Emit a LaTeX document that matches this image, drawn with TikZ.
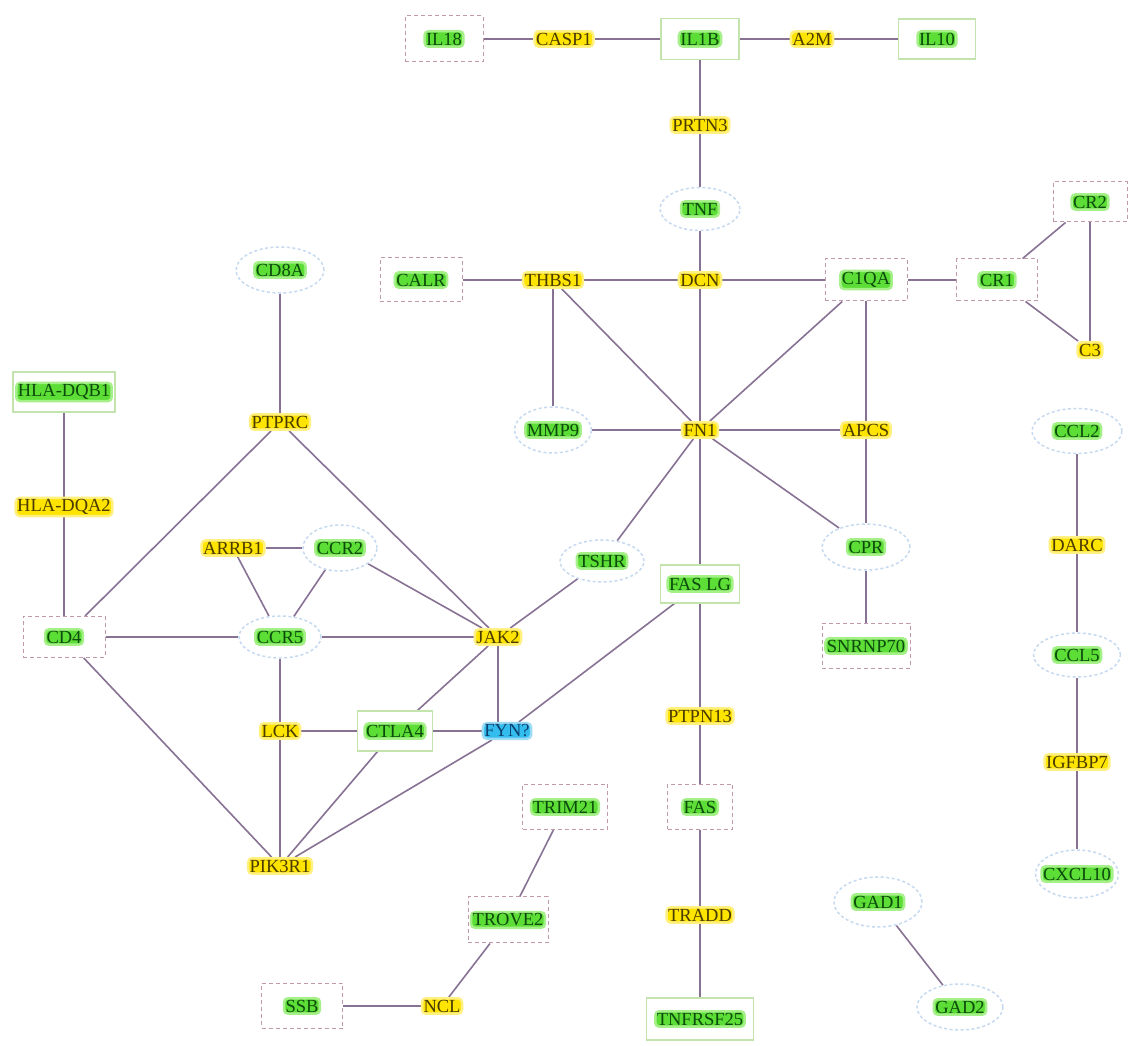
\documentclass[tikz,border=0pt]{standalone}
\usepackage{fontspec}
\setmainfont{Liberation Serif}
\usetikzlibrary{shapes.geometric,backgrounds}
\definecolor{gfill}{HTML}{5CDE36}
\definecolor{gglow}{HTML}{A6F08A}
\definecolor{gtext}{HTML}{0D4A0D}
\definecolor{yfill}{HTML}{FFE400}
\definecolor{yglow}{HTML}{FFF080}
\definecolor{ytext}{HTML}{4A3C00}
\definecolor{bfill}{HTML}{33BDEE}
\definecolor{bglow}{HTML}{9ADCF6}
\definecolor{btext}{HTML}{0B3F6E}
\definecolor{edgec}{HTML}{887294}
\definecolor{fsolidc}{HTML}{C4E4AE}
\definecolor{fdashc}{HTML}{C09AAA}
\definecolor{fellc}{HTML}{C6DAF0}
\tikzset{
  x=1pt,y=1pt,
  lbl/.style={rounded corners=4pt,inner sep=1.5pt,line width=2.5pt,
    font=\fontsize{18.5}{20}\selectfont},
  hg/.style={lbl,fill=gfill,draw=gglow,text=gtext},
  hy/.style={lbl,fill=yfill,draw=yglow,text=ytext},
  hb/.style={lbl,fill=bfill,draw=bglow,text=btext},
  fsolid/.style 2 args={draw=fsolidc,line width=1.2pt,rectangle,minimum width=#1pt,minimum height=#2pt,inner sep=0pt},
  fdash/.style 2 args={draw=fdashc,line width=1pt,dash pattern=on 4pt off 3pt,rectangle,minimum width=#1pt,minimum height=#2pt,inner sep=0pt},
  fell/.style 2 args={draw=fellc,line width=1.5pt,dash pattern=on 3pt off 2.5pt,ellipse,minimum width=#1pt,minimum height=#2pt,inner sep=0pt},
  link/.style={draw=edgec,line width=1.6pt}
}
\begin{document}
\begin{tikzpicture}
\useasboundingbox (0,0) rectangle (1128,1045);
% framed nodes (frames)
\node[fdash={78}{46}] (IL18) at (444,1006) {};
\node[fsolid={78}{41}] (IL1B) at (700,1006) {};
\node[fsolid={77}{40}] (IL10) at (937,1006) {};
\node[fell={80}{43}] (TNF) at (700,836) {};
\node[fdash={82}{44}] (CALR) at (421,765) {};
\node[fdash={82}{42}] (C1QA) at (866,765) {};
\node[fdash={81}{42}] (CR1) at (997,765) {};
\node[fdash={74}{40}] (CR2) at (1090,843) {};
\node[fell={88}{46}] (CD8A) at (280,775) {};
\node[fsolid={102}{40}] (HLADQB1) at (64,653) {};
\node[fell={77}{46}] (MMP9) at (553,615) {};
\node[fell={90}{45}] (CCL2) at (1077,614) {};
\node[fell={74}{46}] (CCR2) at (340,497) {};
\node[fell={84}{42}] (TSHR) at (602,484) {};
\node[fell={88}{46}] (CPR) at (866,498) {};
\node[fsolid={79}{38}] (FASLG) at (700,461) {};
\node[fdash={82}{41}] (CD4) at (64,408) {};
\node[fell={82}{42}] (CCR5) at (280,408) {};
\node[fdash={88}{45}] (SNRNP70) at (866,399) {};
\node[fell={87}{44}] (CCL5) at (1077,390) {};
\node[fsolid={75}{40}] (CTLA4) at (395,314) {};
\node[fdash={85}{45}] (TRIM21) at (565,238) {};
\node[fdash={65}{45}] (FAS) at (700,238) {};
\node[fell={83}{48}] (CXCL10) at (1077,171) {};
\node[fell={88}{50}] (GAD1) at (878,143) {};
\node[fdash={80}{46}] (TROVE2) at (508,125) {};
\node[fell={86}{46}] (GAD2) at (960,38) {};
\node[fdash={81}{45}] (SSB) at (302,39) {};
\node[fsolid={107}{42}] (TNFRSF25) at (700,26) {};
% highlighted labels of framed nodes
\node[hg] (IL18t) at (IL18) {IL18};
\node[hg] (IL1Bt) at (IL1B) {IL1B};
\node[hg] (IL10t) at (IL10) {IL10};
\node[hg] (TNFt) at (TNF) {TNF};
\node[hg] (CALRt) at (CALR) {CALR};
\node[hg] (C1QAt) at (C1QA) {C1QA};
\node[hg] (CR1t) at (CR1) {CR1};
\node[hg] (CR2t) at (CR2) {CR2};
\node[hg] (CD8At) at (CD8A) {CD8A};
\node[hg] (HLADQB1t) at (HLADQB1) {HLA-DQB1};
\node[hg] (MMP9t) at (MMP9) {MMP9};
\node[hg] (CCL2t) at (CCL2) {CCL2};
\node[hg] (CCR2t) at (CCR2) {CCR2};
\node[hg] (TSHRt) at (TSHR) {TSHR};
\node[hg] (CPRt) at (CPR) {CPR};
\node[hg] (FASLGt) at (FASLG) {FAS LG};
\node[hg] (CD4t) at (CD4) {CD4};
\node[hg] (CCR5t) at (CCR5) {CCR5};
\node[hg] (SNRNP70t) at (SNRNP70) {SNRNP70};
\node[hg] (CCL5t) at (CCL5) {CCL5};
\node[hg] (CTLA4t) at (CTLA4) {CTLA4};
\node[hg] (TRIM21t) at (TRIM21) {TRIM21};
\node[hg] (FASt) at (FAS) {FAS};
\node[hg] (CXCL10t) at (CXCL10) {CXCL10};
\node[hg] (GAD1t) at (GAD1) {GAD1};
\node[hg] (TROVE2t) at (TROVE2) {TROVE2};
\node[hg] (GAD2t) at (GAD2) {GAD2};
\node[hg] (SSBt) at (SSB) {SSB};
\node[hg] (TNFRSF25t) at (TNFRSF25) {TNFRSF25};
% plain highlighted nodes
\node[hy] (CASP1) at (564,1006) {CASP1};
\node[hy] (A2M) at (812,1006) {A2M};
\node[hy] (PRTN3) at (700,920) {PRTN3};
\node[hy] (THBS1) at (553,765) {THBS1};
\node[hy] (DCN) at (700,765) {DCN};
\node[hy] (C3) at (1090,695) {C3};
\node[hy] (PTPRC) at (280,623) {PTPRC};
\node[hy] (FN1) at (700,615) {FN1};
\node[hy] (APCS) at (866,615) {APCS};
\node[hy] (HLADQA2) at (64,538) {HLA-DQA2};
\node[hy] (ARRB1) at (233,497) {ARRB1};
\node[hy] (DARC) at (1077,500) {DARC};
\node[hy] (JAK2) at (498,408) {JAK2};
\node[hy] (LCK) at (280,314) {LCK};
\node[hb] (FYN) at (507,314) {FYN?};
\node[hy] (PTPN13) at (700,329) {PTPN13};
\node[hy] (IGFBP7) at (1077,283) {IGFBP7};
\node[hy] (PIK3R1) at (280,179) {PIK3R1};
\node[hy] (TRADD) at (700,130) {TRADD};
\node[hy] (NCL) at (442,39) {NCL};
% connectors
\begin{pgfonlayer}{background}
\fill[white] (0,0) rectangle (1128,1045);
\draw[link] (IL18) -- (CASP1);
\draw[link] (CASP1) -- (IL1B);
\draw[link] (IL1B) -- (A2M);
\draw[link] (A2M) -- (IL10);
\draw[link] (IL1B) -- (PRTN3);
\draw[link] (PRTN3) -- (TNF);
\draw[link] (TNF) -- (DCN);
\draw[link] (CALR) -- (THBS1);
\draw[link] (THBS1) -- (DCN);
\draw[link] (DCN) -- (C1QA);
\draw[link] (C1QA) -- (CR1);
\draw[link] (CR1) -- (CR2);
\draw[link] (CR1) -- (C3);
\draw[link] (CR2) -- (C3);
\draw[link] (THBS1) -- (THBS1 |- MMP9.north);
\draw[link] (THBS1) -- (FN1);
\draw[link] (DCN) -- (FN1);
\draw[link] (C1QA) -- (FN1);
\draw[link] (C1QA) -- (APCS);
\draw[link] (APCS) -- (CPR);
\draw[link] (MMP9) -- (FN1);
\draw[link] (FN1) -- (APCS);
\draw[link] (FN1) -- (TSHR);
\draw[link] (FN1) -- (FASLG);
\draw[link] (FN1) -- (CPR);
\draw[link] (CPR) -- (SNRNP70);
\draw[link] (CD8A) -- (PTPRC);
\draw[link] (PTPRC) -- (CD4);
\draw[link] (PTPRC) -- (JAK2);
\draw[link] (HLADQB1) -- (HLADQA2);
\draw[link] (HLADQA2) -- (CD4);
\draw[link] (CD4) -- (CCR5);
\draw[link] (CD4) -- (PIK3R1);
\draw[link] (ARRB1) -- (CCR2);
\draw[link] (ARRB1) -- (CCR5);
\draw[link] (CCR2) -- (CCR5);
\draw[link] (CCR2) -- (JAK2);
\draw[link] (CCR5) -- (JAK2);
\draw[link] (CCR5) -- (LCK);
\draw[link] (TSHR) -- (JAK2);
\draw[link] (JAK2) -- (CTLA4);
\draw[link] (JAK2) -- (JAK2 |- FYN.north);
\draw[link] (FASLG) -- (FYN);
\draw[link] (FASLG) -- (PTPN13);
\draw[link] (PTPN13) -- (FAS);
\draw[link] (FAS) -- (TRADD);
\draw[link] (TRADD) -- (TNFRSF25);
\draw[link] (LCK) -- (CTLA4);
\draw[link] (CTLA4) -- (FYN);
\draw[link] (LCK) -- (PIK3R1);
\draw[link] (CTLA4) -- (PIK3R1);
\draw[link] (FYN) -- (PIK3R1);
\draw[link] (TRIM21) -- (TROVE2);
\draw[link] (TROVE2) -- (NCL);
\draw[link] (NCL) -- (SSB);
\draw[link] (CCL2) -- (DARC);
\draw[link] (DARC) -- (CCL5);
\draw[link] (CCL5) -- (IGFBP7);
\draw[link] (IGFBP7) -- (CXCL10);
\draw[link] (GAD1) -- (GAD2);
\end{pgfonlayer}
\end{tikzpicture}
\end{document}
